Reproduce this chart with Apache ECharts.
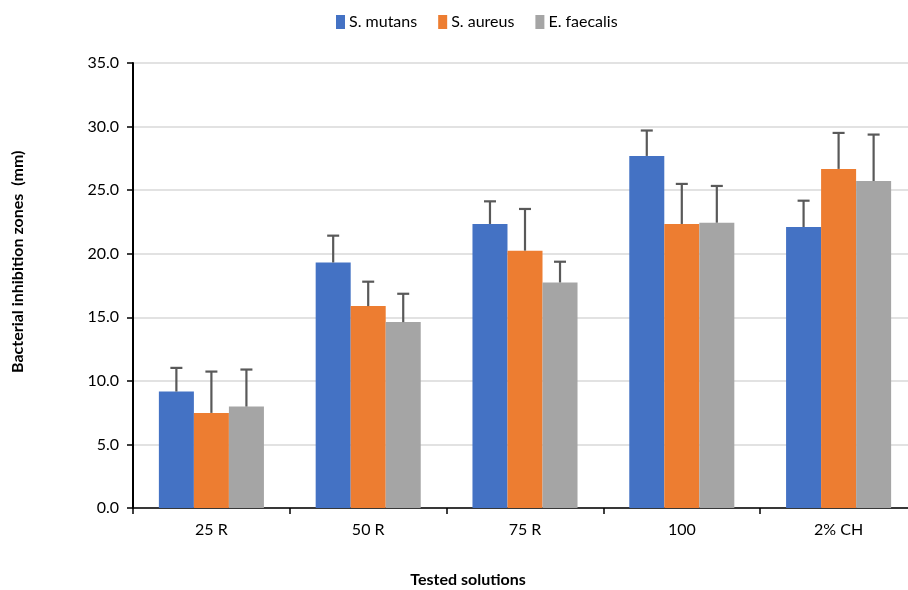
<!DOCTYPE html>
<html>
<head>
<meta charset="utf-8">
<script src="https://cdn.jsdelivr.net/npm/echarts@6/dist/echarts.min.js"></script>
<style>html,body{margin:0;padding:0;background:#fff}#c{width:908px;height:590px}</style>
</head>
<body>
<div id="c"></div>
<script>
const categories = ['25 R', '50 R', '75 R', '100', '2% CH'];
const seriesNames = ['S. mutans', 'S. aureus', 'E. faecalis'];
const mutans = [9.16, 19.31, 22.34, 27.69, 22.10];
const aureus = [7.48, 15.88, 20.24, 22.34, 26.67];
const faecalis = [7.98, 14.62, 17.74, 22.44, 25.72];
const mutansErr = [1.86, 2.11, 1.78, 2.00, 2.07];
const aureusErr = [3.25, 1.92, 3.28, 3.15, 2.83];
const faecalisErr = [2.91, 2.23, 1.63, 2.89, 3.65];
const yTicks = [0, 5, 10, 15, 20, 25, 30, 35];
const colors = ['#4472C4', '#ED7D31', '#A5A5A5'];

const values = [mutans, aureus, faecalis];
const errs = [mutansErr, aureusErr, faecalisErr];
const catGap = 0.33;
const font = 'Lato, "Open Sans", sans-serif';

const chart = echarts.init(document.getElementById('c'), null, {renderer: 'canvas'});

const barSeries = seriesNames.map((n, i) => ({
  name: n, type: 'bar', data: values[i], barGap: '0%', barCategoryGap: '33%',
  itemStyle: {color: colors[i]}, z: 2
}));

const errSeries = seriesNames.map((n, i) => ({
  type: 'custom', name: n + ' err', z: 5, silent: true,
  data: values[i].map((v, k) => [k, v, v + errs[i][k]]),
  renderItem: function (params, api) {
    const k = api.value(0);
    const catW = api.size([1, 0])[0];
    const bw = catW * (1 - catGap) / 3;
    const base = api.coord([k, api.value(1)]);
    const top = api.coord([k, api.value(2)]);
    const x = base[0] + (i - 1) * bw;
    const cap = 6;
    const st = {stroke: '#595959', lineWidth: 2.2};
    return {type: 'group', children: [
      {type: 'line', shape: {x1: x, y1: base[1], x2: x, y2: top[1]}, style: st},
      {type: 'line', shape: {x1: x - cap, y1: top[1], x2: x + cap, y2: top[1]}, style: st}
    ]};
  }
}));

chart.setOption({
  animation: false,
  textStyle: {fontFamily: font},
  legend: {
    top: 9, left: 331, itemWidth: 9, itemHeight: 14, itemGap: 21,
    icon: 'rect', data: seriesNames,
    textStyle: {fontSize: 16, color: '#000', fontFamily: font, padding: [0, 0, 0, -1]}
  },
  grid: {left: 133, width: 784, top: 63, height: 445, containLabel: false, outerBoundsMode: 'none'},
  xAxis: {
    type: 'category', data: categories,
    axisLine: {lineStyle: {color: '#000', width: 1.5}},
    axisTick: {show: true, length: 6, lineStyle: {color: '#000', width: 1.5}},
    axisLabel: {fontSize: 16, color: '#000', margin: 14, fontFamily: font}
  },
  yAxis: {
    type: 'value', min: yTicks[0], max: yTicks[yTicks.length - 1], interval: 5,
    axisLine: {show: true, lineStyle: {color: '#000', width: 2}},
    axisTick: {show: true, length: 6, lineStyle: {color: '#000', width: 1.5}},
    splitLine: {lineStyle: {color: '#d9d9d9', width: 1.5}},
    axisLabel: {fontSize: 16, color: '#000', margin: 14, fontFamily: font,
      formatter: v => v.toFixed(1)}
  },
  graphic: [
    {type: 'text', rotation: Math.PI / 2, x: 10, y: 373,
      style: {text: 'Bacterial inhibition zones  (mm)', font: 'bold 16px ' + font, fill: '#000'}},
    {type: 'text', x: 468, y: 580,
      style: {text: 'Tested solutions', font: 'bold 16px ' + font, fill: '#000',
        textAlign: 'center', textVerticalAlign: 'middle'}}
  ],
  series: barSeries.concat(errSeries)
});
</script>
</body>
</html>
